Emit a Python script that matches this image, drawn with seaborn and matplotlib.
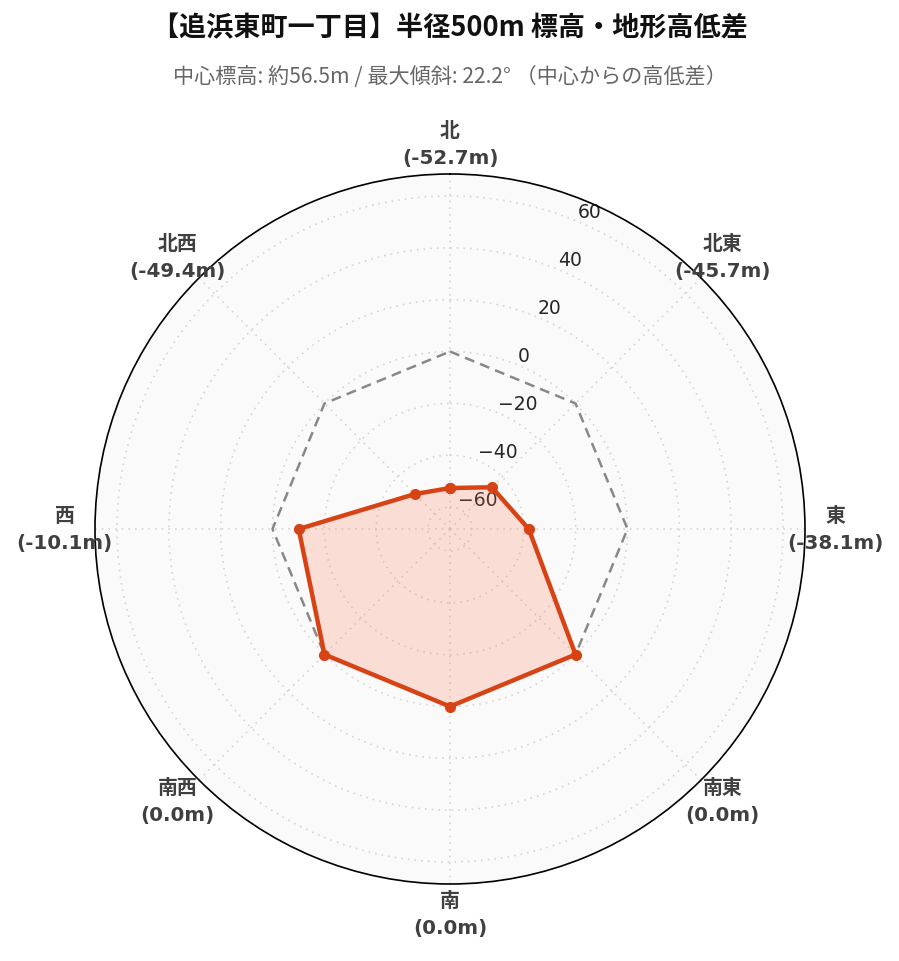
"""
Radar chart: elevation difference from centre, 500m radius
"""

import numpy as np
import matplotlib.pyplot as plt
import seaborn as sns

# ---------------------------------------------------
# Data
# ---------------------------------------------------
directions = ["北", "北東", "東", "南東", "南", "南西", "西", "北西"]
height_diff = [-52.7, -45.7, -38.1, 0.0, 0.0, 0.0, -10.1, -49.4]
radial_ticks = [-60, -40, -20, 0, 20, 40, 60]

title = "【追浜東町一丁目】半径500m 標高・地形高低差"
subtitle = "中心標高: 約56.5m / 最大傾斜: 22.2° （中心からの高低差）"

# ---------------------------------------------------
# Style
# ---------------------------------------------------
sns.set_style("white")
plt.rcParams["font.family"] = ["Noto Sans CJK JP", "DejaVu Sans"]

line_color = "#D84315"
fill_color = "#FF6E4A"

r_lim = 68.5

angles = np.linspace(0, 2 * np.pi, len(directions), endpoint=False)
angles_closed = np.append(angles, angles[0])
values_closed = np.append(height_diff, height_diff[0])
zero_closed = np.zeros_like(angles_closed)

fig = plt.figure(figsize=(8.99, 9.62), dpi=100)
ax = fig.add_axes([95 / 899, 77 / 962, 710 / 899, 710 / 962], projection="polar")

ax.set_theta_zero_location("N")
ax.set_theta_direction(-1)
ax.set_ylim(-r_lim, r_lim)
ax.set_facecolor("#fafafa")

# zero reference
ax.plot(angles_closed, zero_closed, color="#888888", linestyle="--",
        linewidth=1.8, dashes=(4, 2.5), zorder=3)

# data polygon
ax.fill(angles_closed, values_closed, color=fill_color, alpha=0.2, zorder=2)
ax.plot(angles_closed, values_closed, color=line_color, linewidth=3.2,
        marker="o", markersize=7, zorder=4)

# grid
ax.set_xticks(angles)
ax.set_xticklabels([])
ax.set_yticks(radial_ticks)
ax.set_yticklabels([f"{t}".replace("-", "\u2212") for t in radial_ticks],
                   fontsize=13.5, family="DejaVu Sans")
ax.set_rlabel_position(22.5)
ax.tick_params(axis="y", pad=0)
ax.grid(True, color="#d5d5d5", linestyle=(0, (1, 3)), linewidth=1.2)
ax.spines["polar"].set_color("black")
ax.spines["polar"].set_linewidth(1.2)

# direction labels with values
for ang, name, val in zip(angles, directions, height_diff):
    ax.text(ang, r_lim * 1.17, f"{name}\n({val:.1f}m)",
            ha="center", va="center", fontsize=14.3, fontweight="bold",
            color="#404040", linespacing=1.55, clip_on=False,
            family=["DejaVu Sans", "Noto Sans CJK JP"])

fig.text(0.5, 0.971, title, ha="center", va="center",
         fontsize=19.5, fontweight="bold", color="#111111")
fig.text(0.5, 0.920, subtitle, ha="center", va="center",
         fontsize=15.2, color="#666666")

plt.savefig("out.png", dpi=100)
plt.close()
